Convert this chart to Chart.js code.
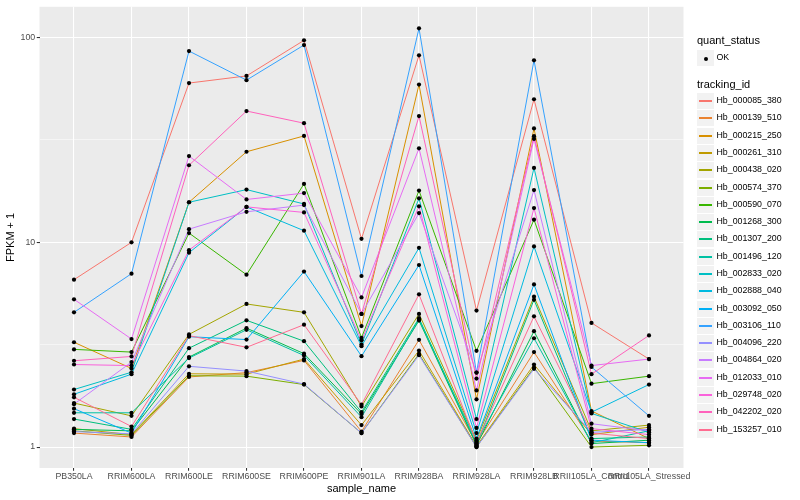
<!DOCTYPE html>
<html>
<head>
<meta charset="utf-8">
<script src="https://cdn.jsdelivr.net/npm/chart.js@4.4.1/dist/chart.umd.min.js"></script>
<style>
    body { margin: 0; background: #fff; font-family: "Liberation Sans", Arial, sans-serif; }
    #wrap { position: relative; width: 800px; height: 500px; }
    #chart { position: absolute; left: 0; top: 0; }
    #legend { position: absolute; left: 697px; top: 0; width: 103px; height: 500px; }
    .ttl { position: absolute; left: 0; font-size: 11px; line-height: 13px; white-space: nowrap; color: #000; }
    .row { position: absolute; left: 0; height: 17px; width: 100px; }
    .key { position: absolute; left: 0; top: 0; width: 17px; height: 17px; background: #F2F2F2; box-sizing: border-box; border-top: 1px solid #fff; }
    .key i { position: absolute; left: 2px; width: 13px; top: 7px; height: 2px; }
    .key b { position: absolute; left: 6.5px; top: 6.5px; width: 4px; height: 4px; border-radius: 50%; background: #000; }
    .lab { position: absolute; left: 19.5px; top: 0; font-size: 8.8px; line-height: 17px; white-space: nowrap; color: #000; }
</style>
</head>
<body>
<div id="wrap">
    <canvas id="chart" width="800" height="500"></canvas>
    <div id="legend"></div>
</div>
<script>
// categories on the x axis
const sampleNames = ['PB350LA', 'RRIM600LA', 'RRIM600LE', 'RRIM600SE', 'RRIM600PE', 'RRIM901LA',
    'RRIM928BA', 'RRIM928LA', 'RRIM928LB', 'RRII105LA_Control', 'RRII105LA_Stressed'];

const trackingIds = ['Hb_000085_380', 'Hb_000139_510', 'Hb_000215_250', 'Hb_000261_310', 'Hb_000438_020',
    'Hb_000574_370', 'Hb_000590_070', 'Hb_001268_300', 'Hb_001307_200', 'Hb_001496_120',
    'Hb_002833_020', 'Hb_002888_040', 'Hb_003092_050', 'Hb_003106_110', 'Hb_004096_220',
    'Hb_004864_020', 'Hb_012033_010', 'Hb_029748_020', 'Hb_042202_020', 'Hb_153257_010'];

// FPKM + 1 per gene, one value per sample
const hb000085 = [6.57, 10.0, 60, 65, 97, 10.4, 82, 4.64, 50, 4.04, 2.69];
const hb000139 = [1.17, 1.12, 2.2, 2.31, 2.65, 1.19, 3.34, 1.04, 2.91, 1.07, 1.05];
const hb000215 = [3.25, 2.42, 15.7, 27.7, 33.1, 3.9, 59, 1.71, 36, 1.5, 1.1];
const hb000261 = [1.23, 1.15, 2.28, 2.27, 2.69, 1.28, 2.96, 1.01, 2.53, 1.15, 1.25];
const hb000438 = [1.64, 1.42, 3.55, 5.0, 4.55, 1.58, 4.47, 1.08, 5.43, 1.2, 1.28];
const hb000574 = [1.2, 1.14, 2.23, 2.22, 2.02, 1.17, 2.85, 1.0, 2.45, 1.0, 1.02];
const hb000590 = [3.0, 2.91, 11.1, 6.95, 19.3, 3.42, 17.9, 2.95, 12.9, 2.04, 2.22];
const hb001268 = [1.22, 1.2, 2.75, 3.81, 2.86, 1.45, 4.15, 1.02, 3.68, 1.04, 1.08];
const hb001307 = [1.37, 1.22, 3.04, 4.16, 3.29, 1.48, 4.26, 1.03, 5.24, 1.1, 1.12];
const hb001496 = [1.47, 1.47, 2.72, 3.74, 2.8, 1.40, 4.2, 1.06, 3.4, 1.05, 1.2];
const hb002833 = [1.91, 2.32, 15.7, 18.1, 15.4, 3.17, 16.4, 1.37, 23.1, 1.46, 1.18];
const hb002888 = [1.81, 2.27, 8.9, 14.9, 11.4, 3.11, 9.4, 1.17, 9.55, 1.48, 2.02];
const hb003092 = [1.54, 1.17, 3.46, 3.35, 7.2, 2.78, 7.75, 1.1, 6.23, 1.08, 1.05];
const hb003106 = [4.55, 7.03, 86, 62, 92, 6.85, 111, 2.31, 77.5, 2.46, 1.42];
const hb004096 = [1.19, 1.16, 2.48, 2.35, 2.03, 1.17, 2.81, 1.0, 2.41, 1.18, 1.22];
const hb004864 = [1.62, 2.6, 11.6, 14.1, 15.2, 4.47, 13.9, 2.31, 18.0, 1.30, 1.2];
const hb012033 = [5.27, 3.37, 26.4, 16.2, 17.4, 5.38, 28.8, 1.89, 32, 2.5, 2.69];
const hb029748 = [2.53, 2.5, 9.16, 14.9, 14.0, 3.32, 15.0, 1.24, 14.7, 1.23, 1.15];
const hb042202 = [2.64, 2.77, 23.8, 43.8, 38.2, 4.47, 41.4, 2.16, 33, 2.27, 3.51];
const hb153257 = [1.75, 1.26, 3.5, 3.07, 3.96, 1.61, 5.57, 1.05, 4.35, 1.17, 1.1];

const seriesValues = [hb000085, hb000139, hb000215, hb000261, hb000438, hb000574, hb000590,
    hb001268, hb001307, hb001496, hb002833, hb002888, hb003092, hb003106, hb004096,
    hb004864, hb012033, hb029748, hb042202, hb153257];

// y tick labels (log10 axis), minor lines in between
const yMajorTicks = [1, 10, 100];
const yMinorTicks = [Math.sqrt(10), Math.sqrt(1000)];

// ggplot default hue palette for 20 levels
const palette = ['#F8766D', '#EA8331', '#D89000', '#C09B00', '#A3A500', '#7CAE00', '#39B600',
    '#00BB4E', '#00BF7D', '#00C1A3', '#00BFC4', '#00BAE0', '#00B0F6', '#35A2FF', '#9590FF',
    '#C77CFF', '#E76BF3', '#FA62DB', '#FF62BC', '#FF6C91'];

const toPoints = values => values.map((v, i) => ({ x: i, y: v }));

const lineSets = seriesValues.map((values, i) => ({
    type: 'line',
    label: trackingIds[i],
    data: toPoints(values),
    borderColor: palette[i],
    borderWidth: 1,
    pointRadius: 0,
    tension: 0,
    fill: false,
    order: 100 - i
}));

// geom_point layer on top of all lines (quant_status = OK)
const pointSet = {
    type: 'scatter',
    label: 'OK',
    data: seriesValues.flatMap(toPoints),
    backgroundColor: '#000',
    borderColor: '#000',
    borderWidth: 0,
    pointRadius: 2.1,
    showLine: false,
    order: 0
};

const panelBackground = {
    id: 'panelBackground',
    beforeDraw(chart) {
        const { ctx, chartArea: a } = chart;
        ctx.save();
        ctx.fillStyle = '#EBEBEB';
        ctx.fillRect(a.left, a.top, a.right - a.left, a.bottom - a.top);
        ctx.restore();
    }
};

const isMajorY = v => yMajorTicks.some(m => Math.abs(m - v) < 1e-9);

new Chart(document.getElementById('chart').getContext('2d'), {
    data: { datasets: [...lineSets, pointSet] },
    options: {
        responsive: false,
        animation: false,
        events: [],
        layout: { padding: { top: 4, right: 116.5, bottom: 0, left: 0 } },
        plugins: { legend: { display: false }, tooltip: { enabled: false } },
        scales: {
            x: {
                type: 'linear',
                min: -0.6,
                max: 10.6,
                afterBuildTicks: scale => { scale.ticks = sampleNames.map((n, i) => ({ value: i })); },
                afterFit: scale => { scale.height = 32; },
                ticks: {
                    autoSkip: false,
                    maxRotation: 0,
                    minRotation: 0,
                    padding: 1,
                    color: '#4D4D4D',
                    font: { family: '"Liberation Sans", Arial, sans-serif', size: 8.8 },
                    callback: v => sampleNames[v]
                },
                grid: { color: '#FFFFFF', lineWidth: 1.07, tickLength: 2.75, tickColor: '#333333', tickWidth: 1.07 },
                border: { display: false },
                title: {
                    display: true,
                    text: 'sample_name',
                    color: '#000',
                    font: { family: '"Liberation Sans", Arial, sans-serif', size: 11 },
                    padding: { top: 0, bottom: 4.4 }
                }
            },
            y: {
                type: 'logarithmic',
                min: 0.79,
                max: 141.5,
                afterBuildTicks: scale => {
                    scale.ticks = [...yMajorTicks, ...yMinorTicks].sort((a, b) => a - b).map(v => ({ value: v }));
                },
                afterFit: scale => { scale.width = 39.5; },
                ticks: {
                    padding: 1.5,
                    color: '#4D4D4D',
                    font: { family: '"Liberation Sans", Arial, sans-serif', size: 8.8 },
                    callback: v => (isMajorY(v) ? String(Math.round(v)) : '')
                },
                grid: {
                    color: '#FFFFFF',
                    lineWidth: ctx => (isMajorY(ctx.tick.value) ? 1.07 : 0.53),
                    tickLength: 2.75,
                    tickColor: ctx => (isMajorY(ctx.tick.value) ? '#333333' : 'rgba(0,0,0,0)'),
                    tickWidth: 1.07
                },
                border: { display: false },
                title: {
                    display: true,
                    text: 'FPKM + 1',
                    color: '#000',
                    font: { family: '"Liberation Sans", Arial, sans-serif', size: 11 },
                    padding: { top: 4.4, bottom: 0 }
                }
            }
        }
    },
    plugins: [panelBackground]
});

// legend on the right, in the ggplot layout
const legend = document.getElementById('legend');
const step = 17.28;

function addTitle(text, centerY) {
    const t = document.createElement('div');
    t.className = 'ttl';
    t.textContent = text;
    t.style.top = Math.round(centerY - 6.5) + 'px';
    legend.appendChild(t);
}

function addRow(text, centerY, color) {
    const r = document.createElement('div');
    r.className = 'row';
    r.style.top = Math.round(centerY - 8.5) + 'px';
    const k = document.createElement('div');
    k.className = 'key';
    const mark = document.createElement(color ? 'i' : 'b');
    if (color) mark.style.background = color;
    k.appendChild(mark);
    const l = document.createElement('div');
    l.className = 'lab';
    l.textContent = text;
    r.appendChild(k);
    r.appendChild(l);
    legend.appendChild(r);
}

addTitle('quant_status', 40.7);
addRow('OK', 57.3, null);
addTitle('tracking_id', 84.3);
trackingIds.forEach((id, i) => addRow(id, 100.7 + i * step, palette[i]));
</script>
</body>
</html>
